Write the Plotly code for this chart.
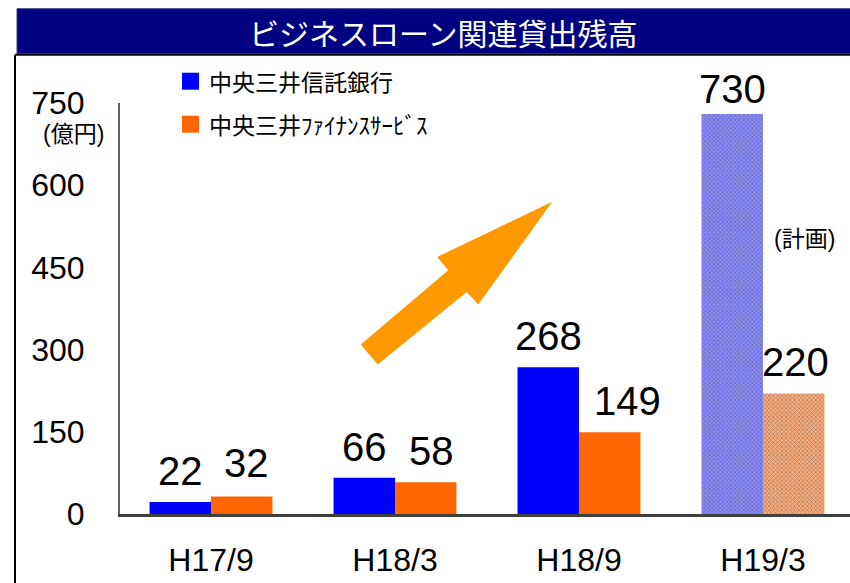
import plotly.graph_objects as go

# ---- data ----
categories = ["H17/9", "H18/3", "H18/9", "H19/3"]
trust_bank = [22, 66, 268, 730]        # 中央三井信託銀行
finance_svc = [32, 58, 149, 220]       # 中央三井ﾌｧｲﾅﾝｽｻｰﾋﾞｽ
series_names = ["中央三井信託銀行", "中央三井ﾌｧｲﾅﾝｽｻｰﾋﾞｽ"]
y_ticks = [0, 150, 300, 450, 600, 750]
title_text = "ビジネスローン関連貸出残高"
unit_text = "(億円)"
plan_text = "(計画)"

# ---- layout geometry (pixels) ----
WIDTH, HEIGHT = 850, 583
L, R, T, B = 120, 850, 103.3, 514.5
PW, PH = R - L, B - T


def px(x):
    return (x - L) / PW


def py(y):
    return (B - y) / PH


FONT = "Liberation Sans, Arial, Noto Sans CJK JP, sans-serif"
CJK = "Noto Sans CJK JP, sans-serif"

blue, blue_plan, blue_fg = "#0000FF", "#8A8AFF", "#7676FF"
orange, orange_plan, orange_fg = "#FF6600", "#FFAE7A", "#FFA06A"

x_idx = list(range(len(categories)))
n = len(categories)

fig = go.Figure()
fig.add_trace(go.Bar(
    x=x_idx, y=trust_bank, name=series_names[0],
    marker=dict(
        color=[blue] * (n - 1) + [blue_plan], line=dict(width=0),
        pattern=dict(shape=[""] * (n - 1) + ["x"], fillmode="overlay",
                     fgcolor=blue_fg, size=3, solidity=0.4),
    ),
    showlegend=False,
))
fig.add_trace(go.Bar(
    x=x_idx, y=finance_svc, name=series_names[1],
    marker=dict(
        color=[orange] * (n - 1) + [orange_plan], line=dict(width=0),
        pattern=dict(shape=[""] * (n - 1) + ["x"], fillmode="overlay",
                     fgcolor=orange_fg, size=3, solidity=0.4),
    ),
    showlegend=False,
))

annotations = []
# value labels
bar_off = 0.167
nudges = {(1, 2): (18, 0), (0, 3): (0, -6), (1, 3): (2, 0), (1, 0): (5, 2), (1, 1): (6, 0)}
for s, vals in enumerate([trust_bank, finance_svc]):
    for i, v in enumerate(vals):
        dx, dy = nudges.get((s, i), (0, 0))
        annotations.append(dict(
            x=i + (-bar_off if s == 0 else bar_off), y=v, xref="x", yref="y",
            text=str(v), showarrow=False, xanchor="center", yanchor="bottom",
            xshift=dx, yshift=7 + dy,
            font=dict(family=FONT, size=40, color="black", weight=500),
        ))


def paper_text(x, y, text, font, size, color="black", xanchor="center"):
    return dict(x=px(x), y=py(y), xref="paper", yref="paper", text=text,
                showarrow=False, xanchor=xanchor, yanchor="middle",
                font=dict(family=font, size=size, color=color))


annotations.append(paper_text(443, 32, title_text, CJK, 30, "white"))
annotations.append(paper_text(207, 81.5, series_names[0], CJK, 23, xanchor="left"))
annotations.append(paper_text(207, 124.5, series_names[1], CJK, 23, xanchor="left"))
annotations.append(paper_text(73, 134, unit_text, FONT, 23))
annotations.append(paper_text(804, 239, plan_text, FONT, 23))

shapes = []
# title bar
shapes.append(dict(type="rect", xref="paper", yref="paper", layer="below",
                   x0=px(17), x1=px(851), y0=py(9), y1=py(54),
                   fillcolor="#000080", line=dict(color="#3a3a80", width=1)))
# frame lines
shapes.append(dict(type="line", xref="paper", yref="paper",
                   x0=px(15), x1=px(851), y0=py(55), y1=py(55),
                   line=dict(color="black", width=2)))
shapes.append(dict(type="line", xref="paper", yref="paper",
                   x0=px(15), x1=px(15), y0=py(55), y1=py(584),
                   line=dict(color="black", width=2)))
# legend squares
shapes.append(dict(type="rect", xref="paper", yref="paper",
                   x0=px(182), x1=px(199), y0=py(73), y1=py(90),
                   fillcolor=blue, line=dict(width=0)))
shapes.append(dict(type="rect", xref="paper", yref="paper",
                   x0=px(182), x1=px(199), y0=py(116), y1=py(133),
                   fillcolor=orange, line=dict(width=0)))
# trend arrow
arrow_px = [(360.7, 345), (448.3, 270.7), (437.3, 257.3), (552.3, 202),
            (478.3, 305), (466.7, 292.3), (377.7, 365)]
path = "M " + " L ".join(f"{px(x):.5f},{py(y):.5f}" for x, y in arrow_px) + " Z"
shapes.append(dict(type="path", xref="paper", yref="paper", path=path,
                   fillcolor="#FF9900", line=dict(width=0)))

fig.update_layout(
    width=WIDTH, height=HEIGHT,
    margin=dict(l=L, r=WIDTH - R, t=T, b=HEIGHT - B, pad=0),
    paper_bgcolor="white", plot_bgcolor="white",
    barmode="group", bargap=0.332, bargroupgap=0,
    xaxis=dict(
        range=[-0.4946, 3.473], tickvals=x_idx, ticktext=categories,
        showgrid=False, zeroline=False, showline=True,
        linecolor="#404040", linewidth=3, ticks="",
        ticklabelstandoff=16,
        tickfont=dict(family=FONT, size=32, color="black"),
    ),
    yaxis=dict(
        range=[0, 750], tickvals=y_ticks, showgrid=False, zeroline=False,
        showline=True, linecolor="#606060", linewidth=2, ticks="",
        ticklabelstandoff=27,
        tickfont=dict(family=FONT, size=32, color="black"),
    ),
    annotations=annotations, shapes=shapes, showlegend=False,
)

fig.write_html("out.html", config={"displayModeBar": False},
               post_script="document.body.style.margin='0';"
                           "document.body.style.overflow='hidden';")
